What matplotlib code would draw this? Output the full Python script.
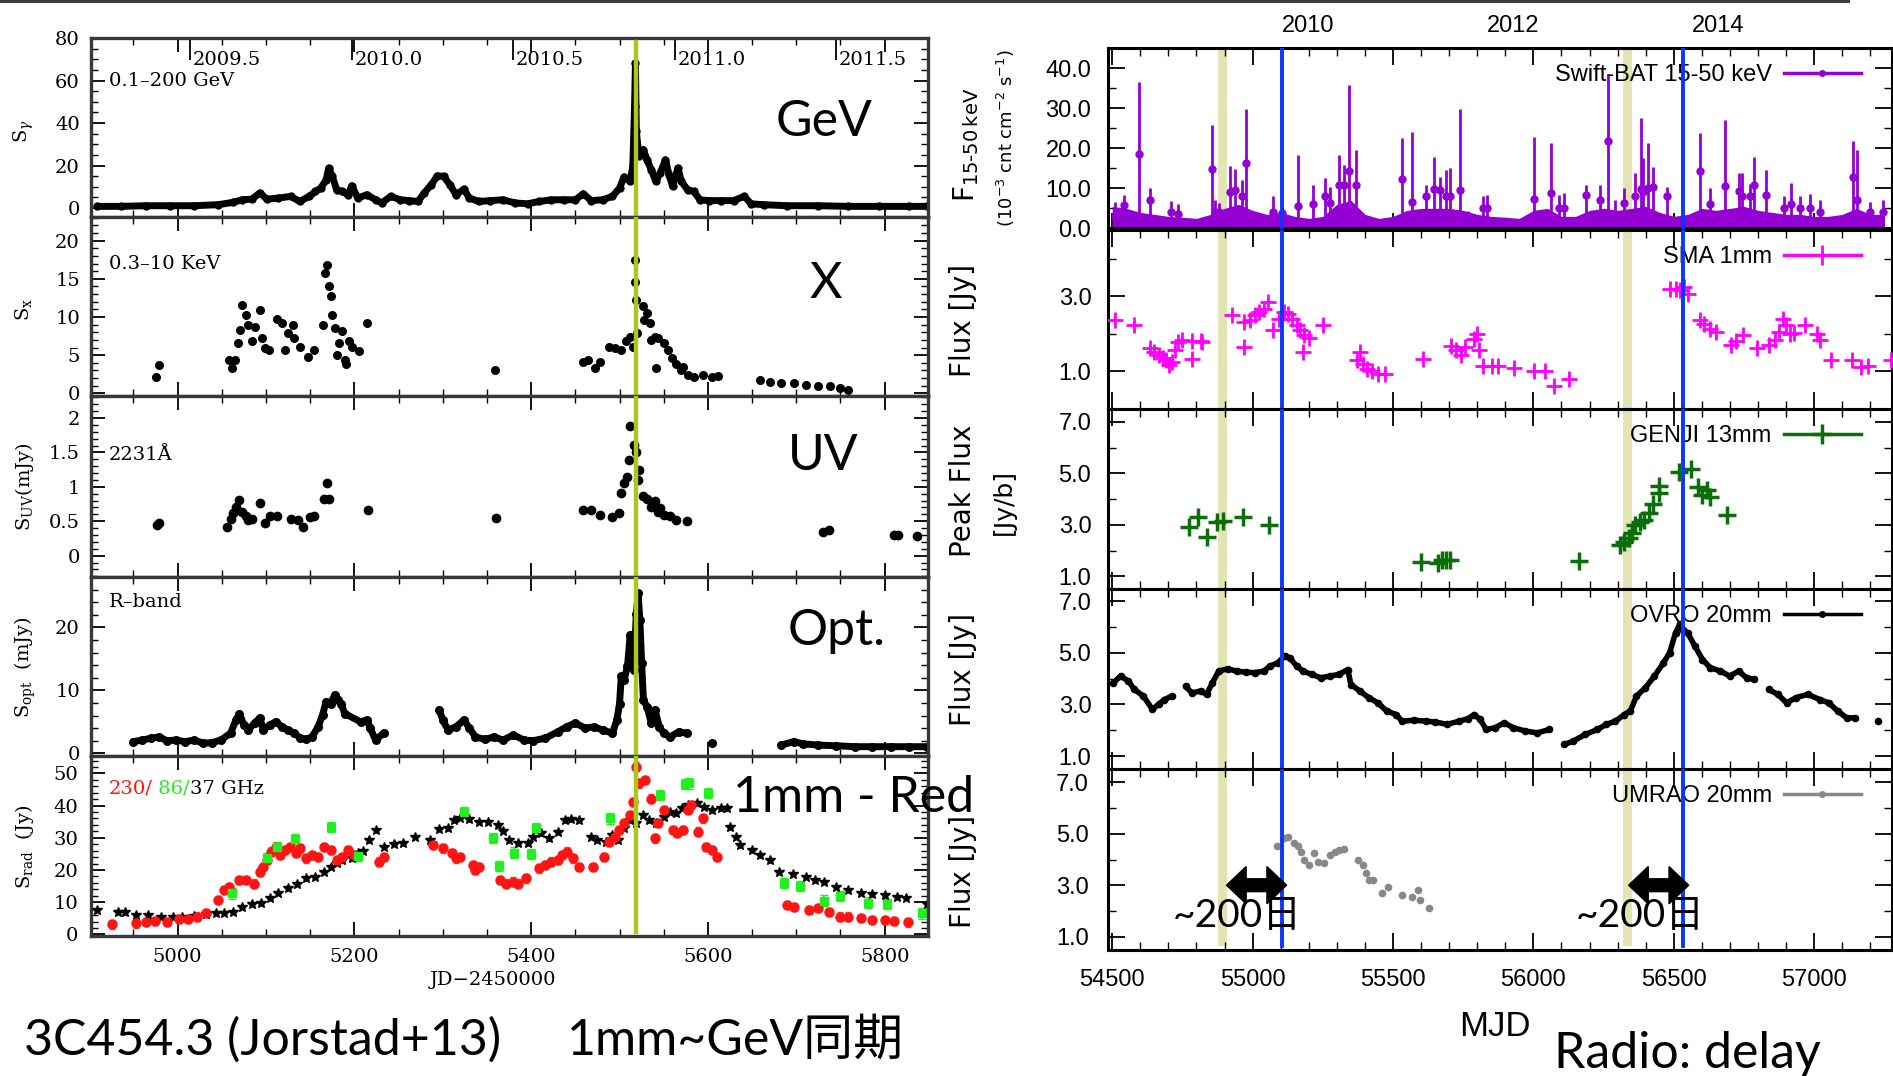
import numpy as np
import matplotlib
matplotlib.use("Agg")
import matplotlib.pyplot as plt
from matplotlib.lines import Line2D
from matplotlib.patches import FancyArrow, Rectangle
from matplotlib.ticker import MultipleLocator, FixedLocator, FuncFormatter

# ---------------------------------------------------------
# Left: 3C454.3 multi-band light curves (JD-2450000)
# ---------------------------------------------------------
gev_jd = [4909, 4936, 4964, 4991, 5019, 5046, 5063, 5073, 5084, 5093, 5101, 5114, 5128, 5138, 5149,
          5156, 5162, 5168, 5171, 5175, 5180, 5186, 5193, 5197, 5204, 5214, 5224, 5231, 5241, 5252,
          5262, 5272, 5279, 5287, 5294, 5301, 5308, 5315, 5324, 5330, 5341, 5354, 5368, 5382, 5396,
          5409, 5423, 5437, 5450, 5459, 5468, 5481, 5492, 5500, 5505, 5512, 5515, 5517, 5518, 5519,
          5522, 5527, 5531, 5536, 5541, 5546, 5552, 5556, 5560, 5566, 5570, 5577, 5584, 5591, 5601,
          5615, 5629, 5641, 5649, 5663, 5690, 5725, 5759, 5793, 5827, 5848]
gev_flux = [0.8, 0.8, 1.1, 1.1, 1.1, 1.6, 2.7, 3.9, 4.2, 7.1, 4.2, 4.7, 5.5, 3.1, 5.5,
            7.8, 9.4, 13.3, 18.8, 14.9, 8.6, 7.8, 6.3, 10.5, 4.7, 6.3, 3.9, 2.4, 5.5, 3.9,
            3.5, 3.1, 7.1, 11.0, 15.2, 14.9, 11.0, 6.3, 8.9, 4.7, 3.1, 3.5, 3.9, 2.4, 2.0,
            3.1, 3.9, 3.9, 3.9, 6.7, 3.5, 3.9, 5.5, 9.4, 14.6, 12.5, 19.6, 47.8, 68.2, 36.1,
            24.3, 27.5, 22.7, 18.0, 12.5, 16.5, 22.7, 15.7, 10.2, 18.8, 12.5, 8.6, 7.8, 3.9, 3.5,
            3.5, 3.5, 5.5, 2.0, 1.6, 1.1, 1.1, 0.8, 0.8, 0.8, 0.8]

xray_jd = [4976, 4979, 5058, 5062, 5065, 5068, 5071, 5073, 5077, 5080, 5084, 5087, 5093, 5095, 5099,
           5103, 5113, 5118, 5121, 5125, 5130, 5132, 5138, 5147, 5154, 5165, 5167, 5169, 5171, 5173,
           5175, 5178, 5180, 5183, 5186, 5189, 5191, 5194, 5197, 5205, 5214, 5359, 5459, 5464, 5472,
           5478, 5488, 5495, 5502, 5507, 5512, 5515, 5517, 5518, 5519, 5520, 5526, 5528, 5531, 5534,
           5536, 5540, 5543, 5541, 5550, 5555, 5559, 5564, 5570, 5572, 5577, 5584, 5594, 5605, 5611,
           5659, 5670, 5683, 5697, 5711, 5725, 5738, 5749, 5759]
xray_flux = [2.2, 3.7, 4.4, 3.3, 4.4, 6.6, 8.3, 11.6, 10.3, 9.0, 6.8, 8.7, 10.9, 7.2, 5.9,
             5.7, 9.8, 9.2, 5.7, 7.9, 9.0, 7.2, 6.1, 4.8, 5.7, 9.0, 15.7, 16.8, 14.0, 12.7,
             10.3, 8.5, 5.0, 6.6, 8.1, 4.4, 3.9, 6.8, 6.1, 5.5, 9.2, 3.1, 4.1, 4.4, 3.3,
             4.1, 6.1, 5.9, 5.7, 6.8, 7.4, 6.1, 17.5, 14.6, 12.2, 7.9, 11.4, 9.6, 10.5, 9.2,
             7.0, 7.4, 7.2, 3.3, 6.6, 5.7, 4.6, 3.9, 3.1, 3.5, 2.4, 2.2, 2.4, 2.2, 2.3,
             1.7, 1.5, 1.4, 1.3, 1.1, 1.0, 0.9, 0.7, 0.5]

uv_jd = [4977, 4979, 5056, 5060, 5063, 5066, 5070, 5073, 5077, 5080, 5084, 5093, 5099, 5104, 5113,
         5128, 5136, 5142, 5150, 5154, 5166, 5169, 5171, 5215, 5360, 5459, 5468, 5478, 5492, 5499,
         5502, 5505, 5509, 5511, 5512, 5516, 5519, 5521, 5522, 5526, 5531, 5536, 5540, 5543, 5546,
         5550, 5557, 5564, 5576, 5730, 5737, 5810, 5815, 5836]
uv_flux = [0.45, 0.48, 0.42, 0.54, 0.62, 0.71, 0.81, 0.64, 0.57, 0.52, 0.54, 0.77, 0.47, 0.57, 0.57,
           0.53, 0.52, 0.42, 0.56, 0.57, 0.83, 1.05, 0.83, 0.66, 0.55, 0.67, 0.67, 0.59, 0.56, 0.62,
           0.91, 1.05, 1.15, 1.39, 1.88, 1.61, 1.51, 1.10, 1.25, 0.86, 0.83, 0.71, 0.79, 0.64, 0.69,
           0.59, 0.58, 0.52, 0.50, 0.35, 0.37, 0.30, 0.30, 0.29]

opt_jd = [4950, 4960, 4970, 4979, 4988, 4998, 5008, 5019, 5029, 5039, 5049, 5060, 5066, 5070, 5075,
          5080, 5087, 5093, 5097, 5104, 5111, 5118, 5125, 5132, 5138, 5145, 5152, 5159, 5164, 5168,
          5173, 5178, 5182, 5185, 5189, 5207, 5214, 5218, 5224, 5233, 5296, 5300, 5306, 5315, 5324,
          5330, 5337, 5348, 5358, 5368, 5380, 5392, 5402, 5416, 5430, 5440, 5450, 5461, 5471, 5481,
          5492, 5497, 5500, 5502, 5505, 5509, 5512, 5516, 5519, 5521, 5523, 5525, 5527, 5531, 5536,
          5540, 5545, 5550, 5557, 5567, 5576, 5605, 5683, 5697, 5708, 5725, 5745, 5766, 5786, 5807,
          5827, 5848]
opt_flux = [1.85, 2.1, 2.4, 2.6, 2.0, 2.1, 1.85, 2.1, 1.6, 1.7, 2.1, 3.2, 5.3, 6.3, 4.5,
            3.7, 4.8, 5.6, 3.7, 4.5, 5.0, 4.2, 3.7, 3.2, 2.5, 2.2, 2.6, 4.2, 6.1, 8.2,
            7.9, 9.3, 8.5, 7.9, 6.3, 5.0, 5.3, 4.0, 2.1, 3.2, 6.9, 5.3, 3.7, 4.2, 5.3,
            4.0, 2.6, 2.2, 2.6, 2.1, 2.9, 2.1, 2.0, 2.4, 3.4, 4.2, 4.8, 4.0, 4.2, 3.7,
            3.2, 5.3, 7.9, 12.2, 11.6, 13.8, 18.8, 13.2, 22.2, 25.4, 21.2, 14.3, 8.5, 7.4, 4.8,
            6.9, 4.2, 3.2, 2.6, 3.4, 3.2, 1.6, 1.3, 1.85, 1.5, 1.3, 1.2, 1.05, 1.05, 1.05,
            1.05, 1.05]

r37_jd = [4909, 4933, 4940, 4953, 4967, 4981, 4995, 5005, 5019, 5032, 5043, 5053, 5063, 5073, 5084,
          5094, 5104, 5114, 5125, 5135, 5145, 5156, 5166, 5173, 5180, 5186, 5197, 5204, 5210, 5217,
          5224, 5234, 5245, 5255, 5269, 5286, 5296, 5306, 5313, 5320, 5330, 5341, 5351, 5362, 5368,
          5375, 5385, 5396, 5402, 5411, 5420, 5430, 5438, 5445, 5454, 5468, 5474, 5485, 5492, 5498,
          5505, 5512, 5519, 5526, 5533, 5541, 5550, 5557, 5564, 5571, 5577, 5588, 5596, 5605, 5615,
          5622, 5625, 5632, 5636, 5650, 5659, 5670, 5680, 5696, 5711, 5721, 5731, 5745, 5759, 5773,
          5786, 5800, 5814, 5824, 5848]
r37_flux = [7.6, 6.8, 6.8, 6.0, 6.0, 5.5, 5.5, 5.5, 5.8, 6.2, 6.5, 6.7, 7.0, 8.6, 9.4,
            9.6, 11.2, 12.9, 14.3, 15.8, 17.4, 17.9, 19.5, 21.0, 22.3, 23.1, 23.6, 25.2, 25.9, 29.3,
            32.4, 27.2, 28.1, 28.3, 30.3, 29.3, 32.6, 32.9, 35.5, 36.3, 35.7, 35.0, 35.0, 34.0, 32.2,
            29.3, 28.3, 28.3, 30.3, 31.4, 29.8, 31.9, 35.5, 35.7, 35.5, 30.3, 29.3, 28.8, 30.8, 29.3,
            32.9, 35.5, 34.5, 37.1, 35.5, 34.5, 36.5, 38.1, 37.6, 39.1, 40.2, 40.7, 39.6, 38.6, 39.1,
            39.1, 33.2, 30.3, 27.7, 26.2, 24.6, 23.1, 19.5, 18.9, 17.9, 16.9, 16.4, 14.8, 13.8, 12.9,
            12.4, 12.2, 11.7, 11.4, 9.4]

r230_jd = [4926, 4953, 4964, 4974, 4988, 5001, 5012, 5022, 5032, 5046, 5053, 5058, 5070, 5077, 5086,
           5093, 5097, 5101, 5106, 5111, 5116, 5121, 5127, 5134, 5138, 5145, 5152, 5159, 5166, 5173,
           5180, 5186, 5193, 5200, 5228, 5233, 5289, 5300, 5310, 5315, 5320, 5334, 5337, 5341, 5365,
           5372, 5379, 5385, 5394, 5409, 5416, 5423, 5430, 5435, 5440, 5447, 5454, 5470, 5482, 5488,
           5495, 5499, 5505, 5512, 5515, 5519, 5522, 5529, 5536, 5540, 5543, 5550, 5560, 5565, 5572,
           5577, 5581, 5589, 5594, 5598, 5605, 5610, 5689, 5697, 5714, 5725, 5737, 5749, 5759, 5773,
           5786, 5800, 5810, 5826]
r230_flux = [3.1, 3.4, 3.9, 4.2, 3.9, 4.7, 4.7, 5.5, 6.7, 10.7, 13.8, 14.8, 16.9, 16.9, 15.8,
             19.5, 21.0, 23.1, 25.7, 27.2, 24.6, 26.2, 27.2, 25.2, 26.7, 23.6, 24.6, 24.1, 27.2, 26.2,
             23.1, 24.1, 26.2, 24.6, 22.6, 24.1, 27.7, 26.7, 25.2, 23.6, 24.1, 21.5, 20.0, 21.0, 16.9,
             15.8, 16.4, 15.8, 17.4, 20.5, 21.5, 22.6, 23.1, 24.6, 25.7, 23.6, 21.0, 21.0, 24.1, 28.8,
             30.3, 32.4, 34.5, 37.1, 41.2, 52.1, 46.9, 47.9, 42.2, 29.8, 34.5, 38.6, 32.4, 31.4, 32.4,
             38.6, 40.2, 31.9, 36.0, 27.2, 26.2, 24.1, 9.1, 8.6, 7.6, 8.1, 7.0, 5.5, 5.5, 5.0,
             4.5, 4.5, 4.2, 3.7]

r86_jd = [5062, 5101, 5113, 5133, 5173, 5204, 5324, 5357, 5364, 5381, 5400, 5406, 5489, 5546, 5574,
          5579, 5600, 5686, 5704, 5731, 5749, 5781, 5803, 5842]
r86_flux = [12.7, 23.6, 27.0, 29.5, 33.4, 24.3, 38.1, 30.0, 21.2, 25.4, 24.9, 33.1, 36.0, 43.3, 46.6,
            46.9, 44.0, 16.0, 15.1, 10.5, 11.9, 9.9, 9.4, 6.5]

left_years = [2009.5, 2010.0, 2010.5, 2011.0, 2011.5]
gev_flare_jd = 5519

# ---------------------------------------------------------
# Right: radio delay panels (MJD)
# ---------------------------------------------------------
bat_env_mjd = [54500, 54550, 54600, 54650, 54700, 54750, 54800, 54850, 54900, 54950, 55000, 55050,
               55100, 55150, 55200, 55250, 55300, 55350, 55400, 55450, 55500, 55550, 55600, 55650,
               55700, 55750, 55800, 55850, 55900, 55950, 56000, 56050, 56100, 56150, 56200, 56250,
               56300, 56350, 56400, 56450, 56500, 56550, 56600, 56650, 56700, 56750, 56800, 56850,
               56900, 56950, 57000, 57050, 57100, 57150, 57200, 57250]
bat_env = [5.5, 5, 4, 3.5, 3, 2.8, 2.5, 3.5, 5, 6, 4.5, 3.5, 4, 3, 2.5, 3, 6, 7, 3.5, 2.5,
           3, 4.5, 5, 5, 5, 4.5, 3.5, 3, 2.8, 2.5, 4.5, 5, 3, 3, 4.5, 5, 4.5, 5, 5.5, 4,
           3, 3.5, 5, 4.5, 5, 5.5, 4.5, 4, 3.5, 3.5, 3, 3, 3.5, 5, 3.5, 3.5]
bat_mjd = [54511, 54541, 54596, 54635, 54709, 54735, 54857, 54866, 54881, 54920,
           54939, 54961, 54975, 55074, 55103, 55162, 55215, 55259, 55275, 55307,
           55324, 55344, 55367, 55532, 55568, 55618, 55647, 55667, 55689, 55703,
           55740, 55768, 55821, 55833, 56003, 56063, 56090, 56110, 56189, 56238,
           56264, 56292, 56324, 56360, 56382, 56389, 56409, 56425, 56474, 56594,
           56630, 56684, 56731, 56742, 56770, 56785, 56827, 56892, 56917, 56950,
           56985, 57020, 57138, 57153, 57200, 57245]
bat_val = [3.0, 5.8, 18.5, 7.0, 4.0, 3.5, 14.8, 4.0, 4.0, 9.0,
           9.5, 8.0, 16.2, 4.0, 3.8, 5.7, 6.0, 8.0, 6.4, 10.8,
           10.8, 14.4, 10.8, 12.2, 6.7, 8.0, 9.75, 9.6, 8.0, 8.0,
           9.6, 3.0, 5.0, 5.0, 7.25, 8.75, 5.0, 5.0, 8.3, 7.0,
           21.8, 3.0, 6.25, 8.0, 9.75, 9.0, 10.0, 10.4, 8.0, 14.2,
           6.0, 10.7, 9.3, 8.0, 8.0, 10.8, 8.3, 5.0, 6.0, 5.0,
           5.0, 4.0, 12.9, 7.0, 4.0, 4.0]
bat_top = [6.7, 8.3, 36.4, 10.2, 6.9, 6.0, 25.7, 7.0, 6.4, 15.6,
           14.7, 12.0, 29.8, 8.0, 8.0, 18.3, 10.8, 12.6, 10.4, 18.3,
           15.7, 35.8, 19.6, 22.5, 24.0, 10.8, 17.9, 12.7, 14.5, 15.0,
           29.8, 4.4, 8.0, 8.3, 22.9, 21.2, 8.3, 8.75, 10.8, 10.8,
           38.6, 7.0, 10.0, 13.75, 27.5, 17.5, 21.2, 15.25, 10.4, 23.75,
           10.0, 27.1, 13.9, 13.75, 11.0, 17.75, 14.6, 8.0, 11.2, 8.0,
           8.7, 7.0, 21.7, 19.6, 6.5, 7.0]

sma_mjd = [54511, 54579, 54633, 54650, 54665, 54680, 54690, 54703, 54712, 54723,
           54736, 54750, 54783, 54783, 54815, 54821, 54926, 54971, 54971, 54990,
           55007, 55022, 55040, 55055, 55071, 55093, 55110, 55125, 55140, 55157,
           55168, 55183, 55179, 55200, 55251, 55371, 55382, 55393, 55408, 55425,
           55446, 55472, 55607, 55705, 55725, 55742, 55757, 55789, 55800, 55806,
           55821, 55853, 55875, 55932, 56003, 56042, 56074, 56125, 56485, 56506,
           56523, 56538, 56549, 56592, 56609, 56630, 56652, 56703, 56720, 56746,
           56795, 56838, 56860, 56875, 56888, 56898, 56913, 56928, 56967, 57009,
           57020, 57058, 57133, 57165, 57191, 57273]
sma_flux = [2.38, 2.24, 1.62, 1.52, 1.43, 1.36, 1.29, 1.16, 1.25, 1.56,
            1.78, 1.83, 1.34, 1.81, 1.81, 1.78, 2.49, 1.65, 2.32, 2.36,
            2.49, 2.58, 2.67, 2.85, 2.09, 2.40, 2.58, 2.52, 2.40, 2.23,
            2.09, 1.96, 1.52, 1.90, 2.23, 1.31, 1.52, 1.20, 1.07, 1.01,
            0.94, 0.94, 1.34, 1.68, 1.56, 1.43, 1.65, 1.87, 2.0, 1.56,
            1.14, 1.14, 1.14, 1.10, 1.01, 1.01, 0.60, 0.80, 3.19, 3.19,
            3.16, 3.25, 3.07, 2.36, 2.27, 2.14, 2.05, 1.69, 1.81, 1.96,
            1.63, 1.69, 1.84, 2.05, 2.40, 2.23, 2.0, 2.02, 2.23, 2.0,
            1.83, 1.31, 1.29, 1.12, 1.14, 1.29]

genji_mjd = [54772, 54806, 54838, 54873, 54896, 54965, 55057, 55600, 55660, 55675, 55688, 55703,
             56164, 56307, 56324, 56339, 56350, 56363, 56378, 56393, 56410, 56427, 56448, 56448,
             56517, 56560, 56585, 56602, 56617, 56630, 56688]
genji_flux = [2.90, 3.29, 2.54, 3.12, 3.16, 3.32, 2.99, 1.54, 1.51, 1.62, 1.64, 1.64,
              1.60, 2.22, 2.35, 2.48, 2.67, 2.99, 3.12, 3.19, 3.45, 3.83, 4.22, 4.50,
              5.05, 5.18, 4.47, 4.15, 4.35, 4.09, 3.38]

ovro_mjd = [54504, 54530, 54558, 54579, 54611, 54643, 54665, 54686, 54712, 54761,
            54783, 54815, 54836, 54857, 54879, 54911, 54943, 54975, 55007, 55040,
            55061, 55089, 55114, 55132, 55157, 55179, 55211, 55243, 55275, 55307,
            55339, 55350, 55382, 55414, 55446, 55478, 55511, 55532, 55575, 55618,
            55650, 55693, 55735, 55767, 55789, 55810, 55832, 55864, 55896, 55928,
            55971, 56014, 56057, 56110, 56142, 56185, 56228, 56260, 56292, 56324,
            56345, 56367, 56399, 56431, 56463, 56485, 56506, 56521, 56534, 56549,
            56575, 56602, 56630, 56666, 56699, 56731, 56759, 56784, 56838, 56870,
            56902, 56934, 56977, 57020, 57052, 57084, 57116, 57144, 57228]
ovro_flux = [3.84, 4.10, 3.90, 3.58, 3.32, 2.81, 3.0, 3.19, 3.32, 3.71,
             3.45, 3.52, 3.39, 3.84, 4.29, 4.38, 4.29, 4.25, 4.23, 4.29,
             4.48, 4.61, 4.87, 4.81, 4.48, 4.29, 4.16, 4.03, 4.10, 4.16,
             4.35, 3.77, 3.52, 3.26, 3.06, 2.74, 2.61, 2.35, 2.39, 2.35,
             2.32, 2.23, 2.35, 2.45, 2.61, 2.42, 2.03, 2.10, 2.29, 2.10,
             1.97, 1.90, 2.03, 1.45, 1.58, 1.84, 2.03, 2.23, 2.35, 2.61,
             2.74, 3.32, 3.65, 4.10, 4.61, 5.0, 5.77, 6.10, 5.90, 5.77,
             5.26, 4.74, 4.42, 4.29, 4.10, 4.29, 4.03, 3.97, 3.58, 3.39,
             3.06, 3.26, 3.39, 3.19, 3.06, 2.74, 2.48, 2.48, 2.35]

umrao_mjd = [55087, 55110, 55125, 55147, 55162, 55174, 55183, 55200, 55217, 55232,
             55254, 55275, 55292, 55307, 55324, 55376, 55393, 55404, 55414, 55429,
             55461, 55483, 55532, 55568, 55590, 55596, 55628]
umrao_flux = [4.53, 4.83, 4.87, 4.66, 4.51, 4.31, 3.99, 3.79, 4.27, 3.92,
              3.86, 4.18, 4.31, 4.38, 4.40, 3.99, 3.79, 3.47, 3.21, 3.21,
              2.69, 2.92, 2.62, 2.56, 2.82, 2.43, 2.13]

band_mjd = [54894, 56335]        # GeV flare epochs (shaded)
delay_mjd = [55104, 56532]       # radio peaks (blue lines)
arrow_from = [54907, 56339]
arrow_to = [55121, 56553]
delay_text_mjd = [54944, 56380]
right_years = [2010, 2012, 2014]

# ---------------------------------------------------------
W, H = 1893, 1076
fig = plt.figure(figsize=(W / 100, H / 100), dpi=100)

SLIDE_FONT = ['Lato', 'Noto Sans CJK JP', 'DejaVu Sans']
SLIDE_SIZE = 36
PAPER_FONT = 'DejaVu Serif'
GNU_FONT = 'Liberation Sans'
GREEN = '#a9c81c'
PURPLE = '#9400d3'


def add_px_axes(x0, y0, x1, y1):
    return fig.add_axes([x0 / W, 1 - y1 / H, (x1 - x0) / W, (y1 - y0) / H])


def ftext(x, y, s, **kw):
    return fig.text(x / W, 1 - y / H, s, **kw)


def chain(ax, x, y, gap, color, ms, lw):
    # dense light curves: dots joined where the sampling is continuous
    x = np.asarray(x, float)
    y = np.asarray(y, float)
    cut = np.where(np.diff(x) > gap)[0] + 1
    for xs, ys in zip(np.split(x, cut), np.split(y, cut)):
        ax.plot(xs, ys, '-', color=color, lw=lw, solid_capstyle='round', solid_joinstyle='round')
        ax.plot(xs, ys, 'o', color=color, ms=ms, mew=0)


def jd_to_year(jd):
    return 2000 + (np.asarray(jd, float) + 2450000 - 2451544.5) / 365.25


def year_to_jd(yr):
    return (np.asarray(yr, float) - 2000) * 365.25 + 2451544.5 - 2450000


def mjd_to_year(mjd):
    return 2000 + (np.asarray(mjd, float) + 2400000.5 - 2451544.5) / 365.25


def year_to_mjd(yr):
    return (np.asarray(yr, float) - 2000) * 365.25 + 2451544.5 - 2400000.5


# top slide rule
fig.add_artist(Rectangle((0, 1 - 3 / H), 1850 / W, 3 / H, transform=fig.transFigure,
                         color='#3c3c3c', lw=0))

# ---------------------------------------------------------
# left stack
# ---------------------------------------------------------
left_edges = [38, 217, 396, 577, 756, 936]
lax = [add_px_axes(91, left_edges[i], 928, left_edges[i + 1]) for i in range(5)]
left_setup = [((-4.2, 80), 20, 5), ((-0.35, 23.1), 5, 1), ((-0.31, 2.32), 0.5, 0.1),
              ((-0.43, 28), 10, 2), ((-0.5, 55.4), 10, 2)]
for ax, (ylim, maj, mnr) in zip(lax, left_setup):
    ax.set_xlim(4902, 5849)
    ax.set_ylim(*ylim)
    ax.xaxis.set_major_locator(MultipleLocator(200))
    ax.xaxis.set_minor_locator(MultipleLocator(50))
    ax.yaxis.set_major_locator(MultipleLocator(maj))
    ax.yaxis.set_minor_locator(MultipleLocator(mnr))
    ax.yaxis.set_major_formatter(FuncFormatter(lambda v, p: f'{v:g}'))
    ax.tick_params(which='both', direction='in', top=True, right=True, labelbottom=False,
                   labelsize=14, labelfontfamily=PAPER_FONT, pad=8)
    ax.tick_params(which='major', length=10, width=1.3)
    ax.tick_params(which='minor', length=5, width=1.0)
    for sp in ax.spines.values():
        sp.set_linewidth(2.4)
        sp.set_color('#383838')
    ax.axvline(gev_flare_jd, color=GREEN, lw=3.2, zorder=10,
               ymin=0.02 if ax is lax[4] else 0, ymax=0.98 if ax is lax[0] else 1)
lax[4].tick_params(labelbottom=True, pad=9)

ax = lax[0]
chain(ax, gev_jd, gev_flux, 40, 'black', 6, 5)
sec = ax.secondary_xaxis('top', functions=(jd_to_year, year_to_jd))
sec.set_xticks(left_years)
sec.tick_params(direction='in', length=16, width=1.3, labeltop=False)
for yr in left_years:
    ax.text(year_to_jd(yr) + 3, 0.875, f'{yr:.1f}', transform=ax.get_xaxis_transform(),
            ha='left', va='center', fontsize=14, family=PAPER_FONT)
ax.text(0.021, 0.76, '0.1\u2013200 GeV', transform=ax.transAxes, va='center', fontsize=14,
        family=PAPER_FONT)

ax = lax[1]
ax.plot(xray_jd, xray_flux, 'o', color='black', ms=6.5, mew=0)
ax.text(0.021, 0.74, '0.3\u201310 KeV', transform=ax.transAxes, va='center', fontsize=14,
        family=PAPER_FONT)

ax = lax[2]
ax.plot(uv_jd, uv_flux, 'o', color='black', ms=7, mew=0)
ax.text(0.021, 0.674, '2231\u00c5', transform=ax.transAxes, va='center', fontsize=14,
        family=PAPER_FONT)

ax = lax[3]
chain(ax, opt_jd, opt_flux, 22, 'black', 6.5, 5)
ax.text(0.021, 0.86, 'R\u2013band', transform=ax.transAxes, va='center', fontsize=14,
        family=PAPER_FONT)

ax = lax[4]
ax.errorbar(r37_jd, r37_flux, yerr=0.8, fmt='*', ms=7, color='black', elinewidth=1, capsize=0)
ax.errorbar(r230_jd, r230_flux, yerr=1.3, fmt='o', ms=6.5, color='#ff1414', ecolor='#ff5050',
            elinewidth=1, capsize=2)
ax.errorbar(r86_jd, r86_flux, yerr=1.6, fmt='s', ms=6, color='#22ee22', elinewidth=1.3, capsize=3)
t1 = ax.text(0.021, 0.817, '230/', transform=ax.transAxes, va='center', fontsize=14,
             family=PAPER_FONT, color='#ff1414')
t2 = ax.annotate(' 86/', xy=(1, 0), xycoords=t1, va='bottom', fontsize=14, family=PAPER_FONT,
                 color='#22ee22')
ax.annotate('37 GHz', xy=(1, 0), xycoords=t2, va='bottom', fontsize=14, family=PAPER_FONT,
            color='black')

# left axis labels
left_ylabels = [(24, 131, r'S$_\gamma$'), (24, 309, r'S$_{\rm x}$'), (24, 487, r'S$_{\rm UV}$(mJy)'),
                (25, 667, r'S$_{\rm opt}$  (mJy)'), (25, 847, r'S$_{\rm rad}$  (Jy)')]
for x, y, s in left_ylabels:
    ftext(x, y, s, rotation=90, ha='center', va='center', fontsize=14, family=PAPER_FONT,
          math_fontfamily='dejavuserif')
ftext(493, 980, 'JD\u22122450000', ha='center', va='center', fontsize=14, family=PAPER_FONT)

# slide annotations on the left
for x, y, s in [(776, 136, 'GeV'), (809, 298, 'X'), (788, 470, 'UV'), (788, 645, 'Opt.'),
                (733, 812, '1mm - Red')]:
    ftext(x, y, s, fontsize=SLIDE_SIZE, family=SLIDE_FONT, va='baseline', zorder=20)
ftext(24, 1055, '3C454.3 (Jorstad+13)', fontsize=SLIDE_SIZE, family=SLIDE_FONT, va='baseline')
ftext(567, 1055, '1mm~GeV同期', fontsize=SLIDE_SIZE, family=SLIDE_FONT, va='baseline')

# ---------------------------------------------------------
# right stack
# ---------------------------------------------------------
right_edges = [48, 230, 409, 589, 769, 950]
rax = [add_px_axes(1108, right_edges[i], 1892, right_edges[i + 1]) for i in range(5)]
right_setup = [((-0.4, 45), [0, 10, 20, 30, 40], 5), ((0, 4.76), [1, 3], 1),
               ((0.51, 7.5), [1, 3, 5, 7], 1), ((0.5, 7.47), [1, 3, 5, 7], 1),
               ((0.48, 7.52), [1, 3, 5, 7], 1)]
for i, (ax, (ylim, maj, mnr)) in enumerate(zip(rax, right_setup)):
    ax.set_xlim(54485, 57277)
    ax.set_ylim(*ylim)
    ax.xaxis.set_major_locator(MultipleLocator(500))
    ax.xaxis.set_minor_locator(MultipleLocator(100))
    ax.yaxis.set_major_locator(FixedLocator(maj))
    ax.yaxis.set_minor_locator(MultipleLocator(mnr))
    ax.yaxis.set_major_formatter(FuncFormatter(lambda v, p: f'{v:.1f}'))
    ax.tick_params(which='both', direction='in', top=True, right=True, labelbottom=False,
                   labelsize=17, labelfontfamily=GNU_FONT, pad=12)
    ax.tick_params(which='major', length=12, width=1.3)
    ax.tick_params(which='minor', length=6, width=1.0)
    for sp in ax.spines.values():
        sp.set_linewidth(2.2)
        sp.set_color('black')
    low = 0.02 if i == 4 else 0
    for b in band_mjd:
        ax.axvspan(b - 16, b + 16, ymin=low, color='#dfe2ac', alpha=0.9, lw=0, zorder=0)
    for d in delay_mjd:
        ax.axvline(d, ymin=low, color='#0a37ff', lw=2.8, zorder=8)
rax[4].tick_params(labelbottom=True, pad=14)

ax = rax[0]
ax.fill_between(bat_env_mjd, -0.4, bat_env, color=PURPLE, lw=0, zorder=2)
bat_err = [bat_val, np.subtract(bat_top, bat_val)]
ax.errorbar(bat_mjd, bat_val, yerr=bat_err, fmt='o', ms=5, color=PURPLE, elinewidth=2,
            capsize=0, zorder=3)
ax.axhline(0, color='black', lw=2, zorder=4)
sec = ax.secondary_xaxis('top', functions=(mjd_to_year, year_to_mjd))
sec.set_xticks(right_years)
sec.tick_params(length=0, labelsize=17, labelfontfamily=GNU_FONT, pad=8)
sec.spines['top'].set_visible(False)

ax = rax[1]
ax.errorbar(sma_mjd, sma_flux, yerr=0.08, fmt='+', ms=11, mew=2, color='#ff00ff',
            elinewidth=1.5, capsize=0, zorder=3)

ax = rax[2]
ax.errorbar(genji_mjd, genji_flux, yerr=0.18, fmt='+', ms=13, mew=2.5, color='#0b6e0b',
            elinewidth=2, capsize=0, zorder=3)

ax = rax[3]
chain(ax, ovro_mjd, ovro_flux, 45, 'black', 5.5, 4)

ax = rax[4]
ax.plot(umrao_mjd, umrao_flux, 'o', color='#888888', ms=5.5, mew=0, zorder=3)
for a, b, tx in zip(arrow_from, arrow_to, delay_text_mjd):
    mid = (a + b) / 2
    for end in (a, b):
        ax.add_patch(FancyArrow(mid, 3.0, end - mid, 0, width=0.5, head_width=1.45,
                                head_length=70, length_includes_head=True, color='black',
                                zorder=9))
    ax.text(tx, 1.8, '~200日', ha='center', va='center', fontsize=28, family=SLIDE_FONT,
            zorder=10)

legend_items = [
    ('Swift-BAT 15-50 keV', dict(color=PURPLE, marker='o', ms=4, lw=2.5)),
    ('SMA 1mm', dict(color='#ff00ff', marker='+', ms=14, mew=2, lw=2.5)),
    ('GENJI 13mm', dict(color='#0b6e0b', marker='+', ms=14, mew=2.5, lw=2.5)),
    ('OVRO 20mm', dict(color='black', marker='o', ms=4, lw=2.5)),
    ('UMRAO 20mm', dict(color='#888888', marker='o', ms=4, lw=2.5)),
]
for ax, (lab, kw) in zip(rax, legend_items):
    ax.legend([Line2D([], [], **kw)], [lab], loc='upper right', bbox_to_anchor=(0.961, 0.91),
              frameon=False, markerfirst=False, handlelength=3.3, handletextpad=0.5,
              borderpad=0, borderaxespad=0, prop={'family': GNU_FONT, 'size': 17})

# right axis labels
ftext(966, 145, r'F$_{\rm 15\text{-}50\,keV}$', rotation=90, ha='center', va='center', fontsize=20,
      family='DejaVu Sans')
ftext(1006, 138, r'(10$^{-3}$ cnt cm$^{-2}$ s$^{-1}$)', rotation=90, ha='center', va='center',
      fontsize=13, family='DejaVu Sans')
ftext(963, 320, 'Flux [Jy]', rotation=90, ha='center', va='center', fontsize=20, family='DejaVu Sans')
ftext(963, 491, 'Peak Flux', rotation=90, ha='center', va='center', fontsize=20, family='DejaVu Sans')
ftext(1004, 502, '[Jy/b]', rotation=90, ha='center', va='center', fontsize=18, family='DejaVu Sans')
ftext(963, 669, 'Flux [Jy]', rotation=90, ha='center', va='center', fontsize=20, family='DejaVu Sans')
ftext(963, 872, 'Flux [Jy]', rotation=90, ha='center', va='center', fontsize=20, family='DejaVu Sans')
ftext(1495, 1026, 'MJD', ha='center', va='center', fontsize=25, family=GNU_FONT)
ftext(1554, 1068, 'Radio: delay', fontsize=SLIDE_SIZE, family=SLIDE_FONT, va='baseline')

fig.savefig('out.png', dpi=100)
